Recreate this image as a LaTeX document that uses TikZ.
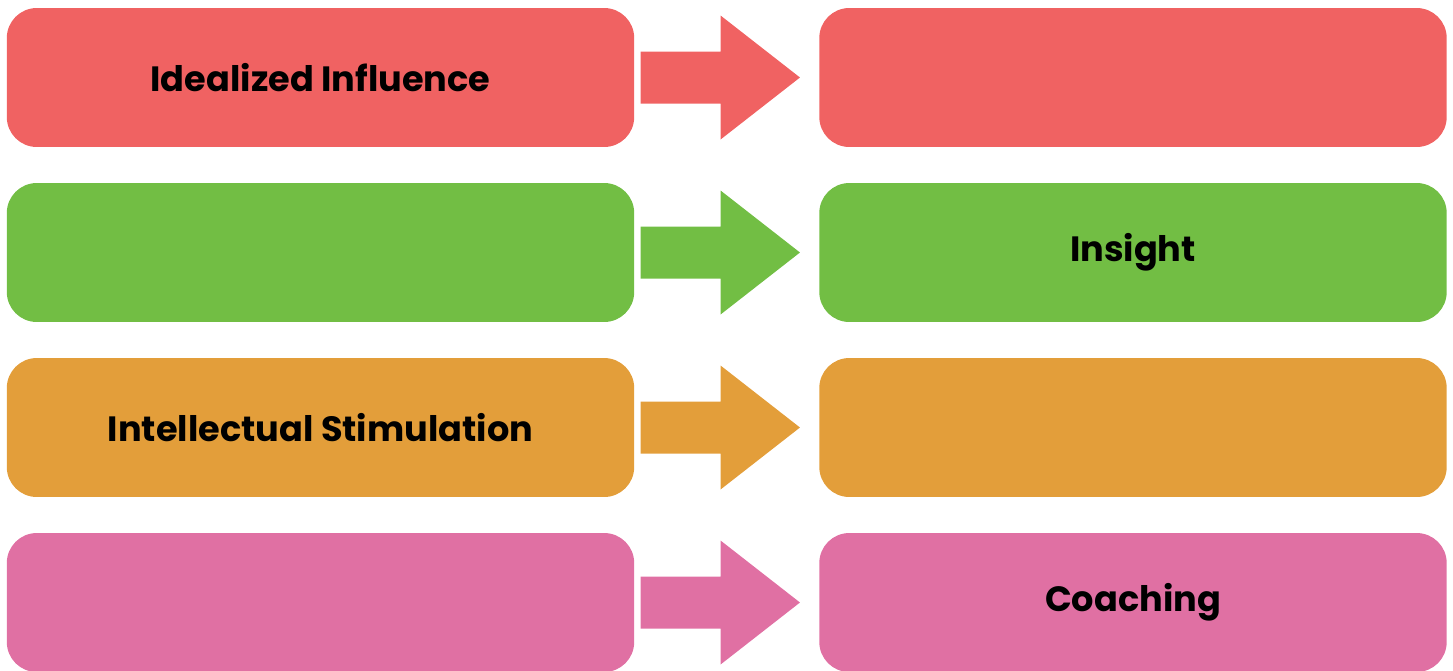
\documentclass[tikz,border=0pt]{standalone}
\usepackage{fontspec}
\setmainfont{Poppins}
\usetikzlibrary{calc}
\definecolor{rowred}{RGB}{240,98,98}
\definecolor{rowgreen}{RGB}{114,190,68}
\definecolor{roworange}{RGB}{227,158,58}
\definecolor{rowpink}{RGB}{224,112,163}
\tikzset{box/.style={rounded corners=0.6cm, minimum width=12.55cm, minimum height=2.78cm, inner sep=0pt, font=\fontsize{20}{24}\selectfont\bfseries}}

\begin{document}
\begin{tikzpicture}[x=0.02cm, y=-0.02cm]
\useasboundingbox (0,0) rectangle (1453,670);
% one row: left box, block arrow, right box
\foreach \n/\c/\y/\lt/\rt in {1/rowred/77.5/Idealized Influence/, 2/rowgreen/252.5//Insight, 3/roworange/427.5/Intellectual Stimulation/, 4/rowpink/602.5//Coaching}{
  \node[box, fill=\c] (l\n) at (320.5,\y) {\lt};
  \node[box, fill=\c] (r\n) at (1133,\y) {\rt};
  \fill[\c] ($(l\n.east)+(6,-26)$) -- ($(l\n.east)+(86,-26)$) -- ($(l\n.east)+(86,-62)$)
    -- ($(r\n.west)+(-19,0)$) -- ($(l\n.east)+(86,62)$) -- ($(l\n.east)+(86,26)$)
    -- ($(l\n.east)+(6,26)$) -- cycle;
}
\end{tikzpicture}
\end{document}
